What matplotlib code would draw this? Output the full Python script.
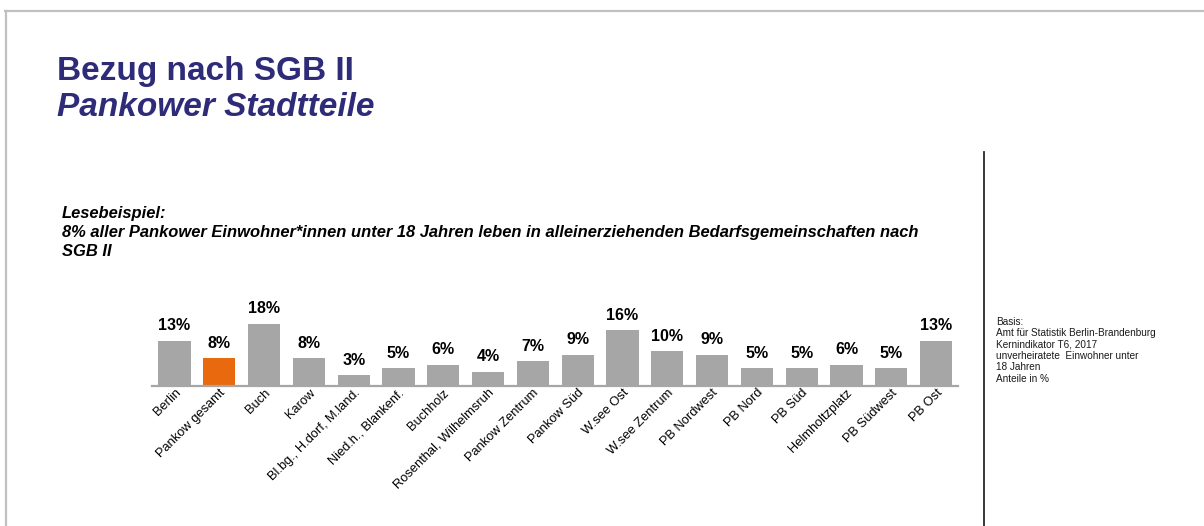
import matplotlib.pyplot as plt
from matplotlib.lines import Line2D

# Anteil der unter 18-Jährigen in SGB-II-Bedarfsgemeinschaften (Alleinerziehende), in %
stadtteile = ["Berlin", "Pankow gesamt", "Buch", "Karow", "Bl.bg., H.dorf, M.land.",
              "Nied.h., Blankenf.", "Buchholz", "Rosenthal, Wilhelmsruh", "Pankow Zentrum",
              "Pankow Süd", "W.see Ost", "W.see Zentrum", "PB Nordwest", "PB Nord",
              "PB Süd", "Helmholtzplatz", "PB Südwest", "PB Ost"]
anteile = [13, 8, 18, 8, 3, 5, 6, 4, 7, 9, 16, 10, 9, 5, 5, 6, 5, 13]
hervorgehoben = "Pankow gesamt"

basis_text = ["Basis:",
              "Amt für Statistik Berlin-Brandenburg",
              "Kernindikator T6, 2017",
              "unverheiratete  Einwohner unter",
              "18 Jahren",
              "Anteile in %"]

W, H = 1204, 526
NAVY = "#2E2B78"
GRAU = "#A6A6A6"
ORANGE = "#E8690E"

plt.rcParams["font.family"] = ["Liberation Sans", "DejaVu Sans"]

fig = plt.figure(figsize=(W / 100, H / 100), dpi=100)
renderer = fig.canvas.get_renderer()


def px(x, y):
    # pixel position (from top left) -> figure fraction
    return x / W, 1 - y / H


# frame lines (top and left) and the vertical divider
fig.add_artist(Line2D([5 / W, 1], [1 - 11 / H] * 2, color="#C0C0C0", lw=1.6,
                      transform=fig.transFigure))
fig.add_artist(Line2D([5.5 / W] * 2, [0, 1 - 11 / H], color="#C0C0C0", lw=1.6,
                      transform=fig.transFigure))
fig.add_artist(Line2D([984 / W] * 2, [0, 1 - 152 / H], color="#262626", lw=1.3,
                      transform=fig.transFigure))

# title
fig.text(*px(57, 80), "Bezug nach SGB II", fontsize=24, fontweight="bold",
         color=NAVY, va="baseline")
fig.text(*px(57, 116), "Pankower Stadtteile", fontsize=24, fontweight="bold",
         fontstyle="italic", color=NAVY, va="baseline")

# reading example, long line sized to end at x=924
lese = ["Lesebeispiel:",
        "8% aller Pankower Einwohner*innen unter 18 Jahren leben in "
        "alleinerziehenden Bedarfsgemeinschaften nach",
        "SGB II"]
lese_txt = [fig.text(*px(62, 218 + i * 19), s, fontsize=10, fontweight="bold",
                     fontstyle="italic", va="baseline")
            for i, s in enumerate(lese)]
breite = lese_txt[1].get_window_extent(renderer).width
for t in lese_txt:
    t.set_fontsize(10 * 862 / breite)

# source note
for i, zeile in enumerate(basis_text):
    fig.text(*px(996, 325 + i * 11.3), zeile, fontsize=7.2, va="baseline",
             color="#1a1a1a")

# bar chart
ax_left, ax_right = 151.7, 958
baseline, top = 385.5, 290
ax = fig.add_axes([ax_left / W, 1 - baseline / H, (ax_right - ax_left) / W,
                   (baseline - top) / H])
pos = list(range(len(stadtteile)))
farben = [ORANGE if s == hervorgehoben else GRAU for s in stadtteile]
ax.bar(pos, anteile, width=0.72, color=farben, zorder=2)
ax.set_xlim(-0.51, len(stadtteile) - 0.51)
ax.set_ylim(0, (baseline - top) / 3.44)

for x, v in zip(pos, anteile):
    ax.annotate(f"{v}%", (x, v), xytext=(0, 7.5), textcoords="offset points",
                ha="center", va="baseline", fontsize=11.5, fontweight="bold")

ax.set_xticks(pos)
ax.set_xticklabels(stadtteile, rotation=45, ha="right", rotation_mode="anchor",
                   fontsize=9.3)
ax.tick_params(axis="x", length=0, pad=1)
ax.set_yticks([])
for side in ["top", "left", "right"]:
    ax.spines[side].set_visible(False)
ax.spines["bottom"].set_color(GRAU)
ax.spines["bottom"].set_linewidth(1.6)
ax.patch.set_alpha(0)

fig.savefig("out.png", dpi=100)
